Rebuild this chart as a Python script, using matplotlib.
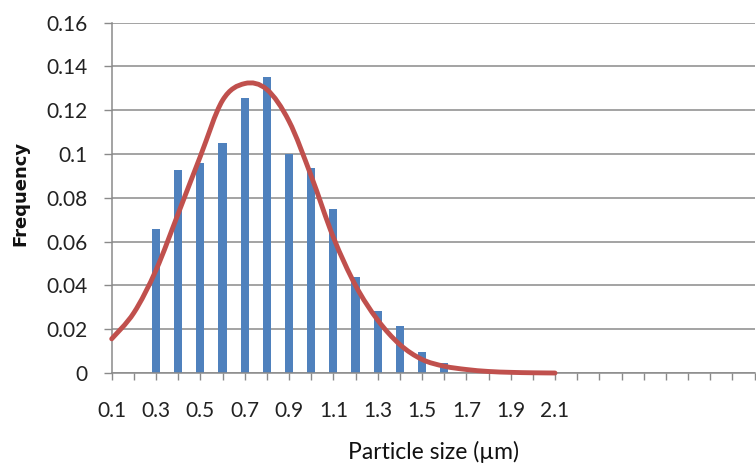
import numpy as np
import matplotlib
matplotlib.use("Agg")
import matplotlib.pyplot as plt
from matplotlib.path import Path
from matplotlib.patches import PathPatch

# ---- data ----
sizes = [0.1, 0.2, 0.3, 0.4, 0.5, 0.6, 0.7, 0.8, 0.9, 1.0, 1.1,
         1.2, 1.3, 1.4, 1.5, 1.6, 1.7, 1.8, 1.9, 2.0, 2.1]
bar_freq = [0.0, 0.0, 0.066, 0.0925, 0.096, 0.105, 0.1255, 0.135, 0.100,
            0.0935, 0.075, 0.044, 0.0284, 0.0216, 0.0098, 0.0044,
            0.0, 0.0, 0.0, 0.0, 0.0]
fit_freq = [0.0156, 0.0275, 0.0470, 0.0728, 0.0990, 0.1245, 0.1322, 0.1295,
            0.1150, 0.0900, 0.0620, 0.0400, 0.0242, 0.0130, 0.0062, 0.0031,
            0.0016, 0.0007, 0.0003, 0.0001, 0.0]
n_slots = 30                     # category slots shown on the axis (extra are blank)
x_tick_labels = ["0.1", "", "0.3", "", "0.5", "", "0.7", "", "0.9", "", "1.1", "",
                 "1.3", "", "1.5", "", "1.7", "", "1.9", "", "2.1"]
y_ticks = [0, 0.02, 0.04, 0.06, 0.08, 0.10, 0.12, 0.14, 0.16]
y_tick_labels = ["0", "0.02", "0.04", "0.06", "0.08", "0.1", "0.12", "0.14", "0.16"]

BLUE = "#4F81BD"
RED = "#C0504D"
GRID = "#8a8a8a"

plt.rcParams['font.family'] = ['Lato', 'DejaVu Sans']

fig = plt.figure(figsize=(7.56, 4.70), dpi=100)
ax = fig.add_axes([111.7 / 756, 1 - 373 / 470, (754.5 - 111.7) / 756, (373 - 22.7) / 470])

x = np.arange(len(sizes))
ax.bar(x, bar_freq, width=0.37, color=BLUE, zorder=2)

# smoothed line (Catmull-Rom -> cubic Bezier), like Excel's smoothed line
px = np.asarray(x, dtype=float)
py = np.asarray(fit_freq, dtype=float)
verts = [(px[0], py[0])]
codes = [Path.MOVETO]
n = len(px)
for i in range(n - 1):
    p1 = np.array([px[i], py[i]])
    p2 = np.array([px[i + 1], py[i + 1]])
    p0 = np.array([px[i - 1], py[i - 1]]) if i > 0 else p1
    p3 = np.array([px[i + 2], py[i + 2]]) if i + 2 < n else p2
    c1 = p1 + (p2 - p0) / 6
    c2 = p2 - (p3 - p1) / 6
    verts += [tuple(c1), tuple(c2), tuple(p2)]
    codes += [Path.CURVE4] * 3
ax.add_patch(PathPatch(Path(verts, codes), facecolor="none", edgecolor=RED,
                       lw=3.5, capstyle="round", joinstyle="round", zorder=3,
                       clip_on=False))

ax.set_xlim(0, n_slots - 1)
ax.set_ylim(0, 0.16)

ax.set_xticks(np.arange(n_slots))
ax.set_xticklabels(x_tick_labels + [""] * (n_slots - len(x_tick_labels)))
ax.tick_params(axis="x", length=5, width=1.0, color=GRID, direction="out",
               pad=15, labelsize=15, labelcolor="#222222")

ax.set_yticks(y_ticks)
ax.set_yticklabels(y_tick_labels)
ax.tick_params(axis="y", length=5.5, width=1.0, color=GRID, direction="out",
               pad=12, labelsize=15, labelcolor="#222222")

ax.grid(axis="y", color=GRID, lw=1.1, zorder=0)
ax.set_axisbelow(True)
for s in ["top", "right"]:
    ax.spines[s].set_visible(False)
for s in ["left", "bottom"]:
    ax.spines[s].set_color(GRID)
    ax.spines[s].set_linewidth(1.1)

fig.text(20 / 756, 1 - 193 / 470, "Frequency", rotation=90, ha="center", va="center",
         fontsize=13, fontweight="bold", color="#111111", family="DejaVu Sans")
fig.text(433 / 756, 1 - 452 / 470, "Particle size (µm)", ha="center", va="center",
         fontsize=16.5, color="#111111")

fig.savefig("out.png", dpi=100)
